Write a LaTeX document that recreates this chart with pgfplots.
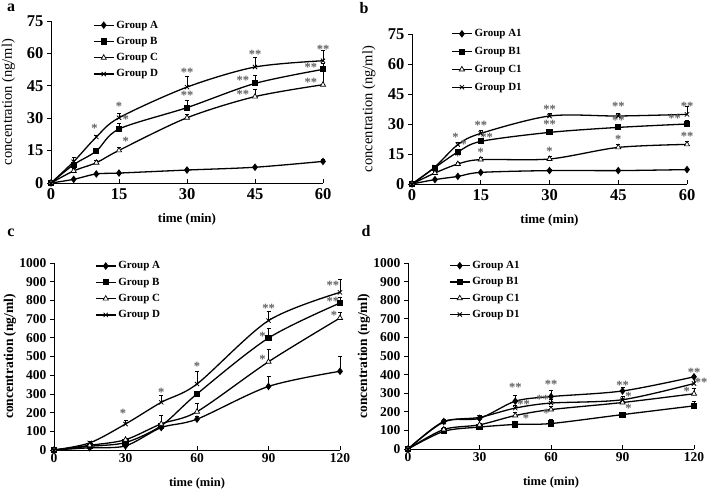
\documentclass[border=0pt]{standalone}
\usepackage{pgfplots}
\pgfplotsset{compat=1.18}
\usepackage{fontspec}
\setmainfont{Liberation Serif}
\tikzset{ast/.style={text=gray!75!black, font=\fontsize{12.5}{12.5}\selectfont\bfseries, inner sep=0pt}}
\pgfplotsset{
 panel/.style={
  scale only axis, anchor=south west,
  axis x line*=bottom, axis y line*=left,
  axis line style={line width=0.9pt},
  xtick align=inside, ytick align=outside,
  major tick length=4pt,
  tick style={line width=0.8pt, black},
  /pgf/number format/assume math mode=true,
  /pgf/number format/1000 sep={},
  clip=false,
  legend style={draw=none, fill=none, anchor=north west, font=\fontsize{11}{11}\selectfont\bfseries, row sep=3.5pt, inner sep=0pt, cells={anchor=west}},
  legend cell align=left,
  legend image code/.code={\draw[mark repeat=2,mark phase=2] plot coordinates {(0pt,0pt) (10pt,0pt) (20pt,0pt)};},
  every axis plot/.append style={black, line width=1.3pt, smooth, mark size=2.4pt,
     error bars/y dir=plus, error bars/y explicit,
     error bars/error bar style={line width=0.6pt, solid},
     error bars/error mark options={rotate=90, mark size=2pt, line width=0.6pt}},
 },
 sA/.style={mark=diamond*, mark size=2.8pt},
 sB/.style={mark=square*, mark size=2.4pt},
 sC/.style={mark=triangle*, mark options={fill=white, line width=0.7pt}, mark size=3pt},
 sD/.style={mark=x, mark size=3pt, mark options={line width=0.8pt}},
 toppanel/.style={xtick={0,15,...,60}, ytick={0,15,...,75}, xmin=0, xmax=60, ymin=0, ymax=75,
   every tick label/.append style={font=\fontsize{16.5}{16.5}\selectfont\bfseries},
   xticklabel style={yshift=-2pt},
   xlabel style={at={(axis description cs:0.5,0)}, anchor=center, yshift=-36pt, font=\fontsize{13}{13}\selectfont\bfseries},
   ylabel style={at={(axis description cs:-0.157,0.5)}, anchor=center, font=\fontsize{14.5}{14.5}\selectfont}},
 botpanel/.style={xtick={0,30,...,120}, ytick={0,100,...,1000}, xmin=0, xmax=120, ymin=0, ymax=1000,
   every tick label/.append style={font=\fontsize{13.5}{13.5}\selectfont\bfseries},
   xlabel style={at={(axis description cs:0.5,0)}, anchor=center, yshift=-33pt, font=\fontsize{12.5}{12.5}\selectfont\bfseries},
   ylabel style={at={(axis description cs:-0.154,0.5)}, anchor=center, font=\fontsize{13.5}{13.5}\selectfont\bfseries}},
}
\begin{document}
\begin{tikzpicture}
\path[use as bounding box] (0pt,0pt) rectangle (708pt,493pt);
\node[font=\fontsize{16}{16}\selectfont\bfseries] at (11pt,485pt) {a};
\node[font=\fontsize{16}{16}\selectfont\bfseries] at (364pt,485pt) {b};
\node[font=\fontsize{16}{16}\selectfont\bfseries] at (11pt,260pt) {c};
\node[font=\fontsize{16}{16}\selectfont\bfseries] at (366pt,262pt) {d};

% ---------------- panel a
\begin{axis}[panel, toppanel, at={(51pt,310pt)}, width=272pt, height=162pt,
  xlabel={time (min)}, ylabel={concentration (ng/ml)},
  legend style={at={(rel axis cs:0.154,1.015)}}]
\addplot[sA] coordinates {(0,0) +- (0,0) (5,1.7) +- (0,0.3) (10,4.2) +- (0,0.4) (15,4.6) +- (0,0.4) (30,6.0) +- (0,0.5) (45,7.3) +- (0,0.5) (60,10.0) +- (0,1)};
\addplot[sB] coordinates {(0,0) +- (0,0) (5,8.5) +- (0,1) (10,14.8) +- (0,1) (15,25) +- (0,2.8) (30,34.9) +- (0,3.4) (45,46.1) +- (0,3.7) (60,52.6) +- (0,3)};
\addplot[sC] coordinates {(0,0) +- (0,0) (5,5.6) +- (0,1) (10,9.4) +- (0,1) (15,15.1) +- (0,1.5) (30,30.2) +- (0,1.5) (45,40) +- (0,3.3) (60,45.5) +- (0,6)};
\addplot[sD] coordinates {(0,0) +- (0,0) (5,9.9) +- (0,2) (10,21.3) +- (0,1) (15,30.2) +- (0,2) (30,44.4) +- (0,5) (45,53.7) +- (0,4.4) (60,56.6) +- (0,5)};
\legend{Group A, Group B, Group C, Group D}
\node[ast] at (axis cs:9.6,25.5) {*};
\node[ast] at (axis cs:15,35.3) {*};
\node[ast] at (axis cs:16.5,29.5) {*};
\node[ast] at (axis cs:16.5,19.5) {*};
\node[ast] at (axis cs:30,51) {**};
\node[ast] at (axis cs:30,40.5) {**};
\node[ast] at (axis cs:45,59.5) {**};
\node[ast] at (axis cs:42.3,47.5) {**};
\node[ast] at (axis cs:42.3,41) {**};
\node[ast] at (axis cs:60,62) {**};
\node[ast] at (axis cs:57.3,53.5) {**};
\node[ast] at (axis cs:57.3,46.5) {**};
\end{axis}

% ---------------- panel b
\begin{axis}[panel, toppanel, at={(412pt,309pt)}, width=275pt, height=150pt,
  xlabel={time (min)}, ylabel={concentration (ng/ml)},
  legend style={at={(rel axis cs:0.142,1.045)}, row sep=5pt}]
\addplot[sA] coordinates {(0,0) +- (0,0) (5,2.2) +- (0,0.3) (10,3.8) +- (0,0.4) (15,5.8) +- (0,0.4) (30,6.7) +- (0,0.4) (45,6.7) +- (0,0.4) (60,7.2) +- (0,0.5)};
\addplot[sB] coordinates {(0,0) +- (0,0) (5,8.2) +- (0,0.8) (10,16) +- (0,1) (15,21.3) +- (0,1.2) (30,25.8) +- (0,1.5) (45,28.3) +- (0,1.5) (60,30) +- (0,2)};
\addplot[sC] coordinates {(0,0) +- (0,0) (5,5.5) +- (0,0.8) (10,10) +- (0,1) (15,12.2) +- (0,1.2) (30,12.5) +- (0,1.5) (45,18.3) +- (0,1.5) (60,19.8) +- (0,1.5)};
\addplot[sD] coordinates {(0,0) +- (0,0) (5,8.5) +- (0,0.8) (10,19.7) +- (0,1) (15,25.3) +- (0,1.5) (30,34) +- (0,1.2) (45,34) +- (0,1.5) (60,34.8) +- (0,3.8)};
\legend{Group A1, Group B1, Group C1, Group D1}
\node[ast] at (axis cs:9.5,23.5) {*};
\node[ast] at (axis cs:11.3,19.8) {*};
\node[ast] at (axis cs:10,14) {*};
\node[ast] at (axis cs:15,29.2) {**};
\node[ast] at (axis cs:16.3,23.5) {**};
\node[ast] at (axis cs:15,16) {*};
\node[ast] at (axis cs:30,37.5) {**};
\node[ast] at (axis cs:30,30) {**};
\node[ast] at (axis cs:30,16.5) {*};
\node[ast] at (axis cs:45,39) {**};
\node[ast] at (axis cs:45,32) {**};
\node[ast] at (axis cs:45,22.5) {*};
\node[ast] at (axis cs:60,39) {**};
\node[ast] at (axis cs:57.3,33) {**};
\node[ast] at (axis cs:60,24) {**};
\end{axis}

% ---------------- panel c
\begin{axis}[panel, botpanel, at={(54pt,43pt)}, width=286pt, height=187pt,
  xlabel={time (min)}, ylabel={concentration (ng/ml)},
  legend style={at={(rel axis cs:0.143,1.019)}}]
\addplot[sA] coordinates {(0,0) +- (0,0) (15,12) +- (0,5) (30,22) +- (0,8) (45,120) +- (0,10) (60,165) +- (0,15) (90,340) +- (0,54) (120,421) +- (0,80)};
\addplot[sB] coordinates {(0,0) +- (0,0) (15,20) +- (0,5) (30,40) +- (0,8) (45,130) +- (0,15) (60,300) +- (0,15) (90,599) +- (0,51) (120,786) +- (0,30)};
\addplot[sC] coordinates {(0,0) +- (0,0) (15,25) +- (0,5) (30,55) +- (0,8) (45,140) +- (0,45) (60,205) +- (0,47) (90,472) +- (0,64) (120,706) +- (0,30)};
\addplot[sD] coordinates {(0,0) +- (0,0) (15,38) +- (0,8) (30,139) +- (0,20) (45,255) +- (0,39) (60,353) +- (0,67) (90,692) +- (0,48) (120,843) +- (0,71)};
\legend{Group A, Group B, Group C, Group D}
\node[ast] at (axis cs:29,195) {*};
\node[ast] at (axis cs:45,310) {*};
\node[ast] at (axis cs:60,445) {*};
\node[ast] at (axis cs:90,755) {**};
\node[ast] at (axis cs:87.5,610) {*};
\node[ast] at (axis cs:87.5,485) {*};
\node[ast] at (axis cs:117,880) {**};
\node[ast] at (axis cs:117,795) {**};
\node[ast] at (axis cs:117.5,720) {*};
\end{axis}

% ---------------- panel d
\begin{axis}[panel, botpanel, at={(408pt,44pt)}, width=286pt, height=186pt,
  xlabel={time (min)}, ylabel={concentration (ng/ml)},
  legend style={at={(rel axis cs:0.143,1.021)}}]
\addplot[sA] coordinates {(0,0) +- (0,0) (15,148) +- (0,10) (30,165) +- (0,10) (45,257) +- (0,31) (60,282) +- (0,35) (90,312) +- (0,20) (120,388) +- (0,10)};
\addplot[sB] coordinates {(0,0) +- (0,0) (15,95) +- (0,8) (30,118) +- (0,8) (45,132) +- (0,8) (60,137) +- (0,25) (90,185) +- (0,8) (120,232) +- (0,25)};
\addplot[sC] coordinates {(0,0) +- (0,0) (15,105) +- (0,10) (30,130) +- (0,10) (45,180) +- (0,15) (60,212) +- (0,15) (90,250) +- (0,15) (120,297) +- (0,30)};
\addplot[sD] coordinates {(0,0) +- (0,0) (15,145) +- (0,10) (30,170) +- (0,10) (45,220) +- (0,15) (60,247) +- (0,20) (90,265) +- (0,20) (120,352) +- (0,35)};
\legend{Group A1, Group B1, Group C1, Group D1}
\node[ast] at (axis cs:45,330) {**};
\node[ast] at (axis cs:48.5,238) {**};
\node[ast] at (axis cs:49.5,166) {*};
\node[ast] at (axis cs:60,346) {**};
\node[ast] at (axis cs:56.5,266) {**};
\node[ast] at (axis cs:58,194) {*};
\node[ast] at (axis cs:90,340) {**};
\node[ast] at (axis cs:92.5,282) {*};
\node[ast] at (axis cs:92.5,220) {*};
\node[ast] at (axis cs:120,412) {**};
\node[ast] at (axis cs:123,358) {**};
\node[ast] at (axis cs:117,312) {*};
\end{axis}
\end{tikzpicture}
\end{document}
